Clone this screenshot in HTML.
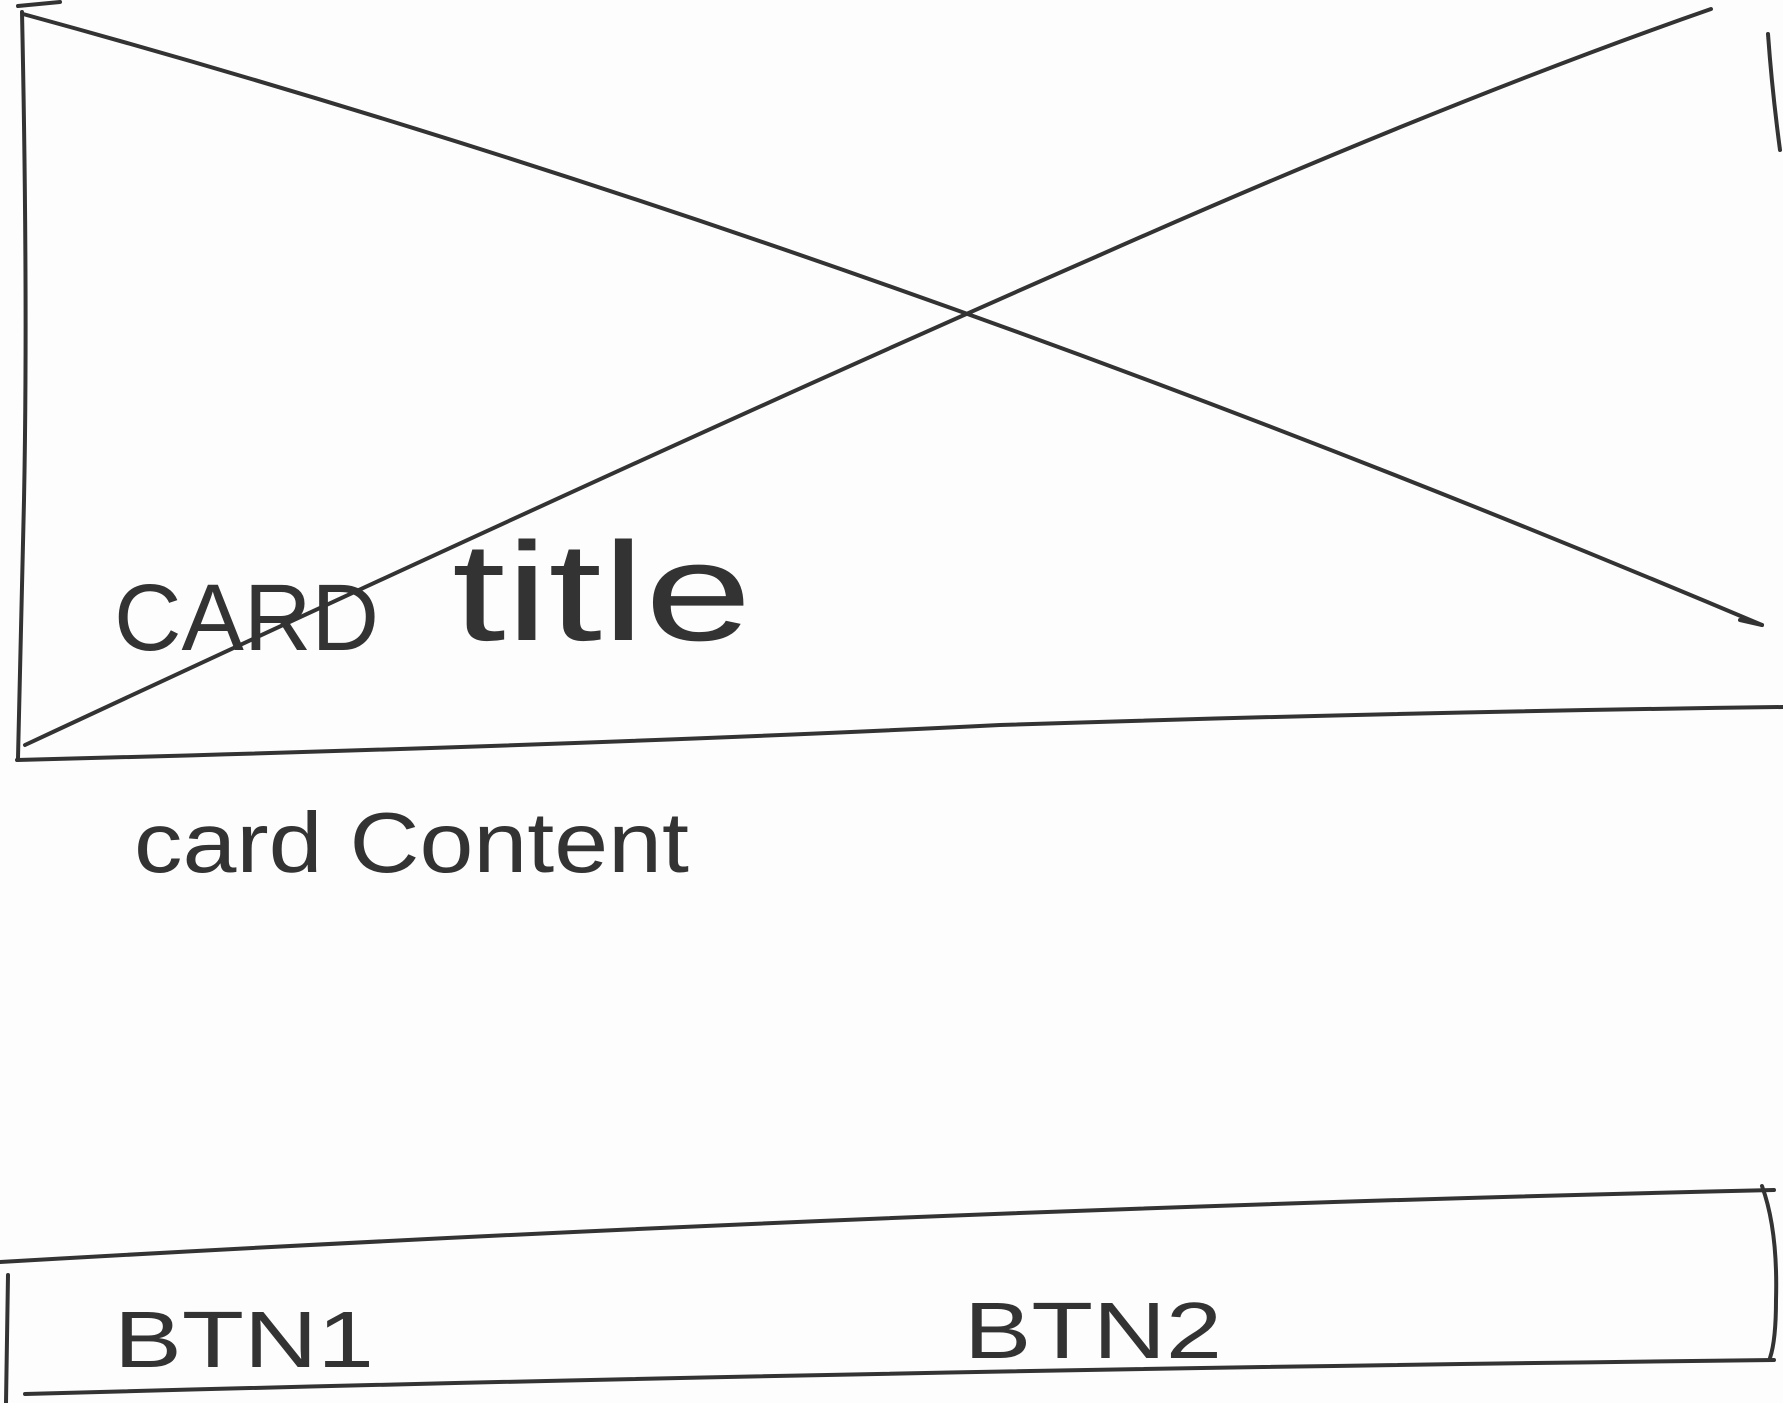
<!DOCTYPE html>
<html><head><meta charset="utf-8"><style>html,body{margin:0;padding:0;background:#fdfdfd;}svg{display:block}</style></head>
<body>
<svg width="1783" height="1403" viewBox="0 0 1783 1403" xmlns="http://www.w3.org/2000/svg">
<g fill="none" stroke="#333" stroke-width="4" stroke-linecap="round">
<path d="M18 6 L60 2"/>
<path d="M22 12 Q28 300 24 500 Q20 650 18 758"/>
<path d="M17 760 Q600 745 1000 725 Q1400 712 1783 707"/>
<path d="M23 14 Q850 240 1762 625"/>
<path d="M1740 620 L1762 625"/>
<path d="M25 745 Q700 430 1100 255 Q1450 100 1711 9"/>
<path d="M1768 34 Q1772 90 1780 150"/>
<path d="M0 1262 Q900 1210 1774 1190"/>
<path d="M1762 1186 Q1778 1230 1776 1300 Q1776 1340 1770 1358"/>
<path d="M25 1394 Q900 1370 1774 1360"/>
<path d="M8 1275 L6 1403"/>
</g>
<g fill="#333" font-family="Liberation Sans, sans-serif">
<text x="114" y="650" font-size="95" textLength="265" lengthAdjust="spacingAndGlyphs">CARD</text>
<text x="452" y="640" font-size="140" textLength="300" lengthAdjust="spacingAndGlyphs">title</text>
<text x="134" y="872" font-size="85" textLength="555" lengthAdjust="spacingAndGlyphs">card Content</text>
<text x="114" y="1367" font-size="80" textLength="260" lengthAdjust="spacingAndGlyphs">BTN1</text>
<text x="964" y="1358" font-size="80" textLength="258" lengthAdjust="spacingAndGlyphs">BTN2</text>
</g>
</svg>
</body></html>
